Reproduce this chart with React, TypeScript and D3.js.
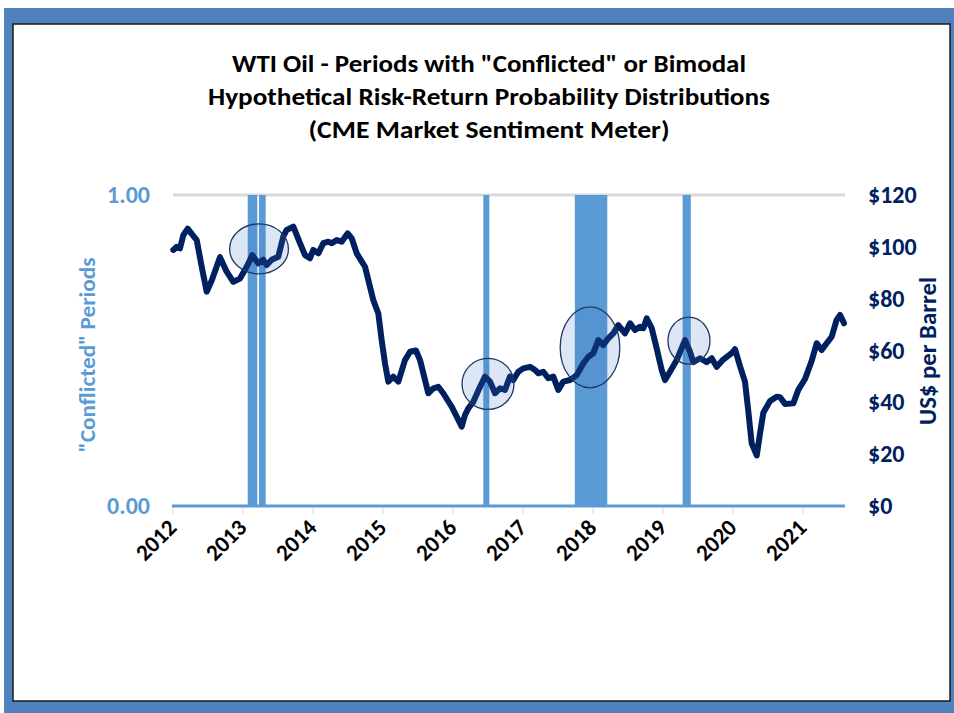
import React from 'react';
import { scaleLinear, line, curveLinear } from 'd3';

// WTI price trace (decimal year, US$ per barrel)
const priceYears = [
  2012.004, 2012.053, 2012.1, 2012.147, 2012.21, 2012.267, 2012.339, 2012.41, 2012.481, 2012.553,
  2012.671, 2012.767, 2012.861, 2012.957, 2013.053, 2013.133, 2013.219, 2013.29, 2013.339, 2013.41,
  2013.504, 2013.576, 2013.624, 2013.719, 2013.814, 2013.886, 2013.957, 2014.004, 2014.076, 2014.147,
  2014.219, 2014.267, 2014.339, 2014.41, 2014.496, 2014.553, 2014.624, 2014.743, 2014.814, 2014.861,
  2014.933, 2014.981, 2015.029, 2015.076, 2015.147, 2015.219, 2015.314, 2015.386, 2015.471, 2015.529,
  2015.6, 2015.647, 2015.719, 2015.79, 2015.861, 2015.981, 2016.053, 2016.124, 2016.171, 2016.219,
  2016.29, 2016.386, 2016.457, 2016.529, 2016.6, 2016.671, 2016.743, 2016.814, 2016.861, 2016.933,
  2017.004, 2017.1, 2017.171, 2017.219, 2017.29, 2017.361, 2017.433, 2017.504, 2017.576, 2017.671,
  2017.767, 2017.861, 2017.933, 2018.004, 2018.076, 2018.147, 2018.219, 2018.29, 2018.361, 2018.457,
  2018.529, 2018.6, 2018.671, 2018.719, 2018.767, 2018.839, 2018.91, 2018.981, 2019.029, 2019.1,
  2019.196, 2019.314, 2019.386, 2019.433, 2019.529, 2019.624, 2019.696, 2019.767, 2019.861, 2019.981,
  2020.029, 2020.1, 2020.171, 2020.219, 2020.267, 2020.339, 2020.386, 2020.433, 2020.529, 2020.624,
  2020.671, 2020.743, 2020.861, 2020.933, 2021.029, 2021.124, 2021.196, 2021.267, 2021.338, 2021.41,
  2021.48, 2021.53, 2021.586,
];
const priceValues = [
  98.8, 100, 99.4, 104.5, 107, 105, 102.6, 92.3, 82.7, 87,
  96, 90.4, 86.5, 87.8, 92.3, 96.8, 93.6, 95, 93, 95,
  96.2, 104, 106.5, 107.8, 101.4, 96.8, 95.6, 98.8, 97.5, 101.4,
  102, 101.4, 102.6, 102, 105.2, 103.3, 97.5, 92.3, 84.6, 79.5,
  74.3, 64, 55, 48, 49.9, 48, 56.3, 59.5, 60, 56.3,
  48.6, 43.5, 45.4, 46, 43.5, 38.3, 34.5, 30.6, 35.1, 37.7,
  40.2, 46, 49.9, 48, 43.5, 45.4, 44.8, 49.9, 48.6, 51.8,
  53.1, 53.7, 52.5, 51.2, 51.8, 49.3, 49.9, 44.8, 48, 48.6,
  50.5, 55, 57.6, 58.9, 64, 62.1, 64.7, 66.6, 69.8, 66.6,
  70.5, 67.9, 69.2, 68.6, 72.4, 68.6, 60.8, 52.5, 48.6, 51.8,
  56.3, 64, 59.5, 55.5, 57, 55.5, 57, 53.7, 56.5, 59,
  60.5, 54, 48, 36.5, 24.2, 19.5, 28, 36, 40.5, 42.2,
  42, 39.4, 39.6, 44.8, 49, 56, 62.8, 60.2, 62.8, 65.3,
  71.8, 73.7, 70.5,
];

// "Conflicted" (bimodal) periods, value 1 on the left axis
const conflictStart = [2013.067, 2013.229, 2016.433, 2017.74, 2019.28];
const conflictEnd = [2013.204, 2013.324, 2016.519, 2018.204, 2019.397];
const conflictValue = [1, 1, 1, 1, 1];

// highlight ellipses (centre year / price, half-width in years, half-height in $)
const ringYear = [2013.229, 2016.5, 2017.957, 2019.371];
const ringPrice = [99.2, 47.1, 61.2, 63.8];
const ringRx = [0.42, 0.371, 0.426, 0.3];
const ringRy = [9.65, 9.84, 15.6, 9.07];

const yearTicks = [2012, 2013, 2014, 2015, 2016, 2017, 2018, 2019, 2020, 2021];
const priceTicks = [0, 20, 40, 60, 80, 100, 120];
const shareTicks = [0, 1];

const titleLines = [
  'WTI Oil - Periods with "Conflicted" or Bimodal',
  'Hypothetical Risk-Return Probability Distributions',
  '(CME Market Sentiment Meter)',
];

const W = 954;
const H = 713;
const plot = { left: 173, right: 845, top: 195, bottom: 506 };
const font = "Carlito, Calibri, 'Liberation Sans', Arial, sans-serif";
const lightBlue = '#5b9bd5';
const navy = '#002060';

export default function App() {
  const x = scaleLinear().domain([2012, 2021.6]).range([plot.left, plot.right]);
  const yPrice = scaleLinear().domain([0, 120]).range([plot.bottom, plot.top]);
  const yShare = scaleLinear().domain([0, 1]).range([plot.bottom, plot.top]);

  const pts = priceYears.map((yr, i) => [yr, priceValues[i]] as [number, number]);
  const pricePath = line<[number, number]>()
    .x((d) => x(d[0]))
    .y((d) => yPrice(d[1]))
    .curve(curveLinear)(pts);

  const titleWidths = [514, 562, 361];
  const titleBase = [72, 105, 138];

  return (
    <svg width={W} height={H} style={{ position: 'absolute', left: 0, top: 0 }} fontFamily={font}>
      <rect x={0} y={0} width={W} height={H} fill="#fff" />
      {/* frame */}
      <rect x={4} y={8} width={950} height={705} fill="#4f81bd" />
      <rect x={13} y={24} width={937} height={677} fill="#fff" stroke="#1a1a1a" strokeWidth={1.5} />

      {/* title */}
      {titleLines.map((t, i) => (
        <text key={t} x={489} y={titleBase[i]} textAnchor="middle" fontSize={24} fontWeight="bold"
          fill="#000" textLength={titleWidths[i]} lengthAdjust="spacingAndGlyphs">{t}</text>
      ))}

      {/* top gridline */}
      <line x1={plot.left} x2={plot.right} y1={yShare(1)} y2={yShare(1)} stroke="#d9d9d9" strokeWidth={3} />

      {/* conflicted period bars */}
      {conflictStart.map((s, i) => (
        <rect key={i} x={x(s)} width={x(conflictEnd[i]) - x(s)} y={yShare(conflictValue[i])}
          height={yShare(0) - yShare(conflictValue[i])} fill={lightBlue} />
      ))}

      {/* x ticks */}
      {yearTicks.map((t) => (
        <line key={t} x1={x(t)} x2={x(t)} y1={plot.bottom + 2} y2={plot.bottom + 8} stroke="#d9d9d9" strokeWidth={1} />
      ))}
      {/* baseline */}
      <line x1={plot.left - 1} x2={plot.right} y1={plot.bottom} y2={plot.bottom} stroke={lightBlue} strokeWidth={3} />

      {/* price line */}
      <path d={pricePath ?? ''} fill="none" stroke={navy} strokeWidth={6} strokeLinejoin="round" strokeLinecap="round" />

      {/* ellipses */}
      {ringYear.map((yr, i) => {
        const cx = x(yr);
        const cy = yPrice(ringPrice[i]);
        return (
          <ellipse key={yr} cx={cx} cy={cy} rx={x(yr + ringRx[i]) - cx} ry={cy - yPrice(ringPrice[i] + ringRy[i])}
            fill="#4472c4" fillOpacity={0.18} stroke="#203864" strokeWidth={1.3} />
        );
      })}

      {/* left axis labels */}
      {shareTicks.map((t) => (
        <text key={t} x={150} y={yShare(t)} dy="0.34em" textAnchor="end" fontSize={24} fontWeight="bold" fill={lightBlue}>
          {t.toFixed(2)}
        </text>
      ))}
      <text transform={`translate(95, 355) rotate(-90)`} textAnchor="middle"
        fontSize={23} fontWeight="bold" fill={lightBlue} textLength={195} lengthAdjust="spacingAndGlyphs">"Conflicted" Periods</text>

      {/* right axis labels */}
      {priceTicks.map((t) => (
        <text key={t} x={868} y={yPrice(t)} dy="0.34em" textAnchor="start" fontSize={24} fontWeight="bold" fill={navy}>
          ${t}
        </text>
      ))}
      <text transform={`translate(936, 351) rotate(-90)`} textAnchor="middle"
        fontSize={24} fontWeight="bold" fill={navy} textLength={148} lengthAdjust="spacingAndGlyphs">US$ per Barrel</text>

      {/* year labels */}
      {yearTicks.map((t) => (
        <text key={t} transform={`translate(${x(t) + 5}, 529) rotate(-45)`} textAnchor="end" fontSize={23}
          fontWeight="bold" fill="#000">{t}</text>
      ))}
    </svg>
  );
}
